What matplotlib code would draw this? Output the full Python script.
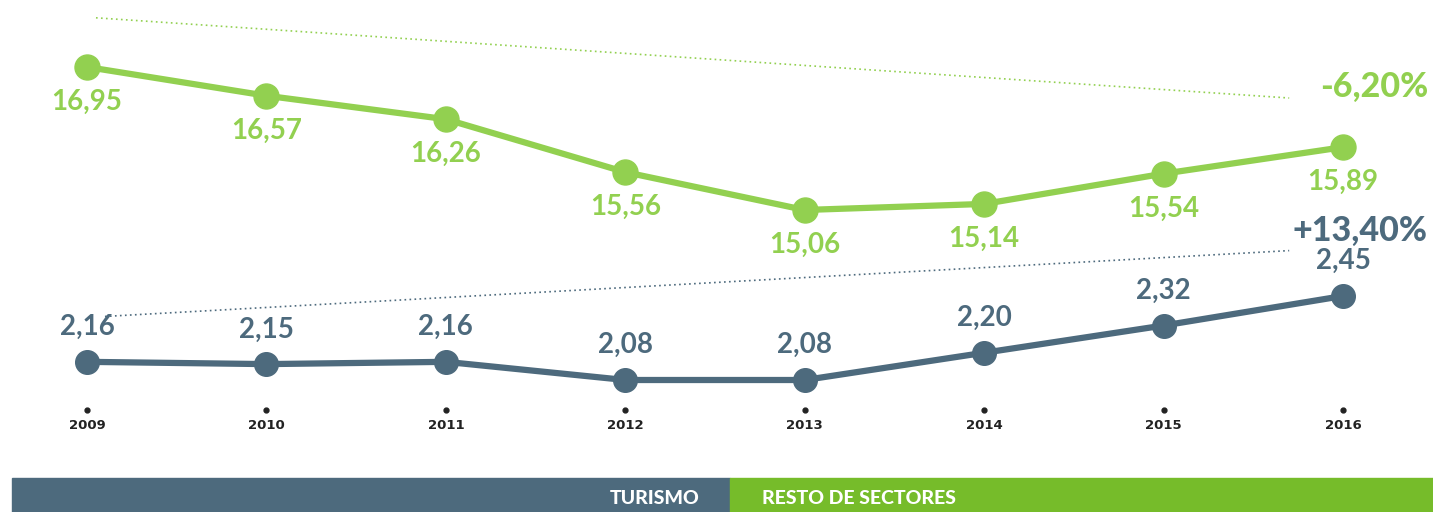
import matplotlib
matplotlib.use("Agg")
import matplotlib.pyplot as plt
from matplotlib.patches import Rectangle

years = [2009, 2010, 2011, 2012, 2013, 2014, 2015, 2016]
resto = [16.95, 16.57, 16.26, 15.56, 15.06, 15.14, 15.54, 15.89]
turismo = [2.16, 2.15, 2.16, 2.08, 2.08, 2.20, 2.32, 2.45]
resto_change = "-6,20%"
turismo_change = "+13,40%"
legend_labels = ["TURISMO", "RESTO DE SECTORES"]

GREEN = "#92d050"
GREEN_BAR = "#76bc2a"
SLATE = "#4d6a7d"

W, H = 1433, 512
fig = plt.figure(figsize=(W / 100, H / 100), dpi=100)
fig.patch.set_facecolor("white")

xlim = (2008.515, 2016.5016)
ax_g = fig.add_axes([0, 0, 1, 1])
ax_s = fig.add_axes([0, 0, 1, 1])
for ax in (ax_g, ax_s):
    ax.set_xlim(*xlim)
    ax.axis("off")
    ax.patch.set_alpha(0)
ax_g.set_ylim(11.068, 17.8355)
ax_s.set_ylim(1.4985, 3.754)

fmt = lambda v: f"{v:.2f}".replace(".", ",")

# trend lines (from first to last value, offset)
ax_g.plot([2009.05, 2015.7], [resto[0] + 0.65, resto[-1] + 0.65], color=GREEN,
          lw=1.2, ls=(0, (1, 2)))
ax_s.plot([2009.1, 2015.7], [turismo[0] + 0.2, turismo[-1] + 0.2], color=SLATE,
          lw=1.2, ls=(0, (1, 2)))

ax_g.plot(years, resto, color=GREEN, lw=4.5, marker="o", ms=18, zorder=3)
ax_s.plot(years, turismo, color=SLATE, lw=4.5, marker="o", ms=17, zorder=3)

lab_font = dict(family=["Lato", "DejaVu Sans"], fontsize=20, fontweight="bold")
for x, v in zip(years, resto):
    ax_g.annotate(fmt(v), (x, v), xytext=(0, -25), textcoords="offset points",
                  ha="center", va="center", color=GREEN, **lab_font)
for x, v in zip(years, turismo):
    ax_s.annotate(fmt(v), (x, v), xytext=(0, 25), textcoords="offset points",
                  ha="center", va="center", color=SLATE, **lab_font)

fig.text(1428 / W, 1 - 87 / H, resto_change, ha="right", va="center",
         color=GREEN, fontsize=24.5, fontweight="black", family=["Lato", "DejaVu Sans"])
fig.text(1428 / W, 1 - 231 / H, turismo_change, ha="right", va="center",
         color=SLATE, fontsize=24.5, fontweight="black", family=["Lato", "DejaVu Sans"])

# year ticks
for x in years:
    ax_g.plot([x], [11.068 + (512 - 410) / 75.66], marker="o", ms=3.5, color="#222222")
    ax_g.text(x, 11.068 + (512 - 425) / 75.66, str(x), ha="center", va="center",
              fontsize=9.5, fontweight="bold", color="#222222", family="DejaVu Sans")

# bottom legend bar
fig.patches.append(Rectangle((12 / W, 0), (730 - 12) / W, 34 / H, transform=fig.transFigure,
                             color=SLATE, zorder=0))
fig.patches.append(Rectangle((730 / W, 0), (W - 730) / W, 34 / H, transform=fig.transFigure,
                             color=GREEN_BAR, zorder=0))
fig.text(700 / W, 1 - 498 / H, legend_labels[0], ha="right", va="center", color="white",
         fontsize=14, fontweight="black", family=["Lato", "DejaVu Sans"])
fig.text(762 / W, 1 - 498 / H, legend_labels[1], ha="left", va="center", color="white",
         fontsize=14, fontweight="black", family=["Lato", "DejaVu Sans"])

fig.savefig("out.png", dpi=100, facecolor="white")
